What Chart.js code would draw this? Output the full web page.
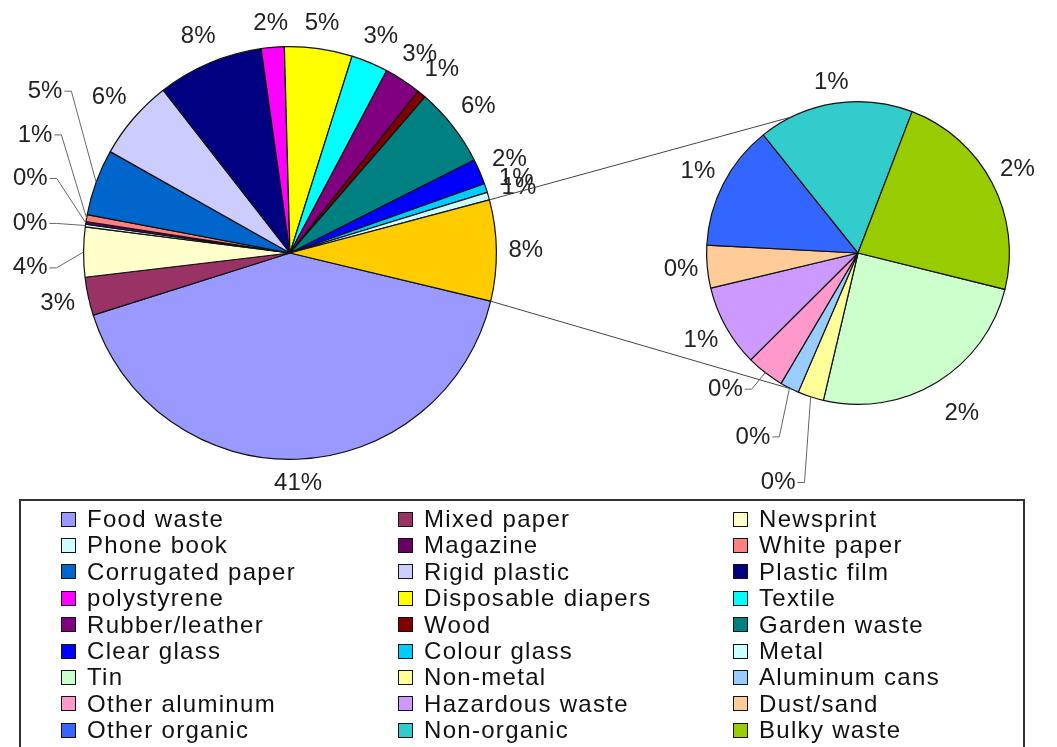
<!DOCTYPE html>
<html>
<head>
<meta charset="utf-8">
<script src="https://cdn.jsdelivr.net/npm/chart.js@4"></script>
<style>
html, body { margin: 0; padding: 0; background: #fff; }
body { width: 1057px; height: 747px; overflow: hidden; position: relative; font-family: "Liberation Sans", Arial, sans-serif; }
#mainPie { position: absolute; left: 0; top: 0; }
#subPie { position: absolute; left: 580px; top: 0; }
#links { position: absolute; left: 0; top: 0; pointer-events: none; }
#legendBox { position: absolute; left: 19px; top: 499px; width: 1006px; height: 280px; border: 2px solid #333; box-sizing: border-box; }
.item { position: absolute; height: 26px; display: flex; align-items: center; font-size: 24px; letter-spacing: 1.3px; color: #111; white-space: nowrap; }
.sw { width: 15px; height: 15px; border: 1px solid #111; box-sizing: border-box; margin-right: 11px; flex: none; }
</style>
</head>
<body>
<canvas id="mainPie" width="580" height="500"></canvas>
<canvas id="subPie" width="477" height="500"></canvas>
<canvas id="links" width="1057" height="500"></canvas>
<div id="legendBox"></div>
<script>
// main pie (share of total, %)
const mainLabels = ['Food waste', 'Mixed paper', 'Newsprint', 'Phone book', 'Magazine', 'White paper',
  'Corrugated paper', 'Rigid plastic', 'Plastic film', 'polystyrene', 'Disposable diapers', 'Textile',
  'Rubber/leather', 'Wood', 'Garden waste', 'Clear glass', 'Colour glass', 'Metal'];
const mainValues = [41.4, 3.0, 3.9, 0.2, 0.2, 0.55, 5.2, 6.3, 8.3, 1.8, 5.3, 2.9, 2.9, 0.7, 6.2, 2.0, 0.7, 0.6];
const mainColors = ['#9999FF', '#993366', '#FFFFCC', '#CCFFFF', '#660066', '#FF8080',
  '#0066CC', '#CCCCFF', '#000080', '#FF00FF', '#FFFF00', '#00FFFF',
  '#800080', '#800000', '#008080', '#0000FF', '#00CCFF', '#CCFFFF'];

// second pie (split out of the main one)
const subLabels = ['Tin', 'Non-metal', 'Aluminum cans', 'Other aluminum', 'Hazardous waste', 'Dust/sand',
  'Other organic', 'Non-organic', 'Bulky waste'];
const subValues = [1.96, 0.22, 0.16, 0.32, 0.69, 0.36, 1.06, 1.31, 1.82];
const subColors = ['#CCFFCC', '#FFFF99', '#99CCFF', '#FF99CC', '#CC99FF', '#FFCC99',
  '#3366FF', '#33CCCC', '#99CC00'];

const otherColor = '#FFCC00';

const sum = arr => arr.reduce((a, b) => a + b, 0);
const otherValue = sum(subValues);
const grandTotal = sum(mainValues) + otherValue;

// labels pushed aside, offset in px from the default spot (leader: draw a line back to the slice)
const mainMoves = {
  2: { dx: -24, dy: 16, leader: true },
  3: { dx: -25, dy: 2, leader: true },
  4: { dx: -25, dy: -40, leader: true },
  5: { dx: -21, dy: -78, leader: true },
  6: { dx: -21, dy: -80, leader: true }
};
const subMoves = {
  0: { dx: 11, dy: 9, leader: false },
  1: { dx: -25, dy: 63, leader: true },
  2: { dx: -25, dy: 26, leader: true },
  3: { dx: -23, dy: -5, leader: true }
};

const pctLabels = {
  id: 'pctLabels',
  afterDatasetsDraw(chart, args, opts) {
    const ctx = chart.ctx;
    const data = chart.data.datasets[0].data;
    const arcs = chart.getDatasetMeta(0).data;
    ctx.save();
    ctx.font = '24px "Liberation Sans", Arial, sans-serif';
    ctx.textAlign = 'center';
    ctx.textBaseline = 'middle';
    arcs.forEach((arc, i) => {
      const p = arc.getProps(['x', 'y', 'startAngle', 'endAngle', 'outerRadius'], true);
      const mid = (p.startAngle + p.endAngle) / 2;
      const cos = Math.cos(mid), sin = Math.sin(mid);
      const txt = Math.round(data[i] / opts.total * 100) + '%';
      const w = ctx.measureText(txt).width;
      const ext = Math.abs(cos) * w / 2 + Math.abs(sin) * 11;
      const d = p.outerRadius + opts.gap + ext;
      let lx = p.x + cos * d, ly = p.y + sin * d;
      const mv = opts.moves[i];
      if (mv) {
        lx += mv.dx;
        ly += mv.dy;
        if (mv.leader) {
          ctx.beginPath();
          ctx.moveTo(lx + w / 2 + 2, ly);
          ctx.lineTo(lx + w / 2 + 9, ly);
          ctx.lineTo(p.x + cos * p.outerRadius, p.y + sin * p.outerRadius);
          ctx.strokeStyle = '#666';
          ctx.lineWidth = 1;
          ctx.stroke();
        }
      }
      ctx.fillStyle = '#222';
      ctx.fillText(txt, lx, ly);
    });
    ctx.restore();
  }
};

function pieOptions(rotation, padding, gap, moves) {
  return {
    responsive: false,
    animation: false,
    rotation: rotation,
    layout: { padding: padding },
    plugins: {
      legend: { display: false },
      tooltip: { enabled: false },
      pctLabels: { total: grandTotal, gap: gap, moves: moves }
    }
  };
}

const mainChart = new Chart(document.getElementById('mainPie'), {
  type: 'pie',
  data: {
    labels: mainLabels.concat(['Other']),
    datasets: [{
      data: mainValues.concat([otherValue]),
      backgroundColor: mainColors.concat([otherColor]),
      borderColor: '#111',
      borderWidth: 1.2
    }]
  },
  options: pieOptions(103.5, { left: 83, right: 83, top: 46, bottom: 40 }, 12, mainMoves),
  plugins: [pctLabels]
});

const subChart = new Chart(document.getElementById('subPie'), {
  type: 'pie',
  data: {
    labels: subLabels,
    datasets: [{
      data: subValues,
      backgroundColor: subColors,
      borderColor: '#111',
      borderWidth: 1.2
    }]
  },
  options: pieOptions(103.9, { left: 126, right: 47, top: 101, bottom: 95 }, 8, subMoves),
  plugins: [pctLabels]
});

// lines joining the "Other" slice to the second pie
function drawConnectors() {
  const mc = document.getElementById('mainPie');
  const sc = document.getElementById('subPie');
  const ctx = document.getElementById('links').getContext('2d');
  const m = mainChart.getDatasetMeta(0).data[mainValues.length]
    .getProps(['x', 'y', 'startAngle', 'endAngle', 'outerRadius'], true);
  const s = subChart.getDatasetMeta(0).data[0].getProps(['x', 'y', 'outerRadius'], true);
  const spread = 64 * Math.PI / 180;
  const pairs = [[m.startAngle, Math.PI + spread], [m.endAngle, Math.PI - spread]];
  ctx.strokeStyle = '#444';
  ctx.lineWidth = 1;
  pairs.forEach(([a, b]) => {
    ctx.beginPath();
    ctx.moveTo(mc.offsetLeft + m.x + Math.cos(a) * m.outerRadius, mc.offsetTop + m.y + Math.sin(a) * m.outerRadius);
    ctx.lineTo(sc.offsetLeft + s.x + Math.cos(b) * s.outerRadius, sc.offsetTop + s.y + Math.sin(b) * s.outerRadius);
    ctx.stroke();
  });
}
drawConnectors();

// legend, three columns, row by row
const colX = [61, 398, 733];
const legendNames = mainLabels.concat(subLabels);
const legendColors = mainColors.concat(subColors);
legendNames.forEach((name, i) => {
  const item = document.createElement('div');
  item.className = 'item';
  item.style.left = colX[i % 3] + 'px';
  item.style.top = (506 + Math.floor(i / 3) * 26.4) + 'px';
  const sw = document.createElement('span');
  sw.className = 'sw';
  sw.style.background = legendColors[i];
  item.appendChild(sw);
  item.appendChild(document.createTextNode(name));
  document.body.appendChild(item);
});
</script>
</body>
</html>
